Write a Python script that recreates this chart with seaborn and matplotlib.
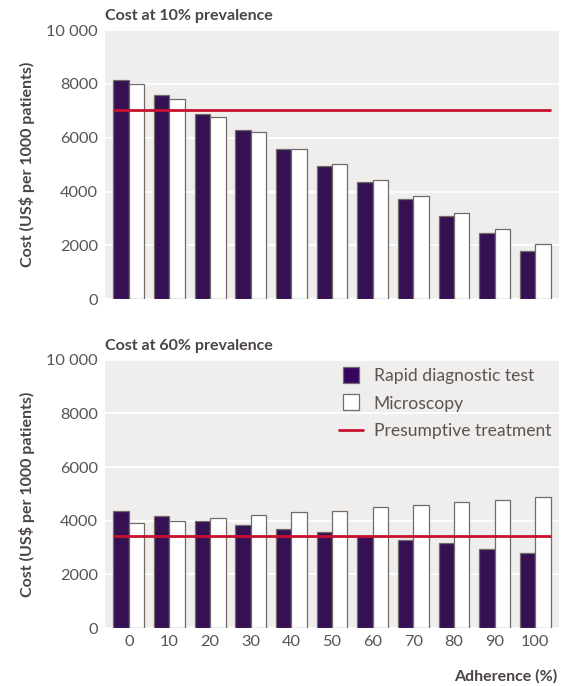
import pandas as pd
import matplotlib.pyplot as plt
import seaborn as sns
from matplotlib.lines import Line2D

# --- Données ---
adherence = [0, 10, 20, 30, 40, 50, 60, 70, 80, 90, 100]

rdt_10 = [8160, 7600, 6880, 6270, 5600, 4960, 4340, 3730, 3075, 2460, 1805]
micro_10 = [8000, 7425, 6790, 6210, 5600, 5015, 4440, 3830, 3210, 2625, 2050]
presumptive_10 = 7015

rdt_60 = [4350, 4165, 4000, 3850, 3700, 3565, 3430, 3280, 3165, 2955, 2805]
micro_60 = [3900, 4000, 4110, 4210, 4325, 4375, 4510, 4575, 4690, 4775, 4885]
presumptive_60 = 3440

methods = ["Rapid diagnostic test", "Microscopy"]
ytick_values = [0, 2000, 4000, 6000, 8000, 10000]
ytick_labels = ["0", "2000", "4000", "6000", "8000", "10 000"]

purple = "#36065f"
red = "#c8102e"
bg = "#efeeec"
edge = "#726c69"
txt = "#5a5452"
dark = "#4a4442"


def make_df(rdt, micro):
    return pd.DataFrame({
        "adherence": adherence * 2,
        "cost": rdt + micro,
        "method": [methods[0]] * len(rdt) + [methods[1]] * len(micro),
    })


sns.set_theme(style="white")
plt.rcParams["font.family"] = ["Lato", "DejaVu Sans"]

fig = plt.figure(figsize=(5.73, 6.86), dpi=100)
ax1 = fig.add_axes([0.183, 0.564, 0.793, 0.392])
ax2 = fig.add_axes([0.183, 0.0845, 0.793, 0.391])

panels = [
    (ax1, rdt_10, micro_10, presumptive_10, "Cost at 10% prevalence"),
    (ax2, rdt_60, micro_60, presumptive_60, "Cost at 60% prevalence"),
]

for ax, rdt, micro, pres, title in panels:
    df = make_df(rdt, micro)
    ax.set_facecolor(bg)
    ax.set_axisbelow(True)
    ax.yaxis.grid(True, color="white", linewidth=1.3)
    sns.barplot(data=df, x="adherence", y="cost", hue="method",
                palette=[purple, "white"], edgecolor=edge, linewidth=0.9,
                width=0.76, gap=0, legend=False, ax=ax)
    ax.hlines(pres, -0.38, 10.38, color=red, linewidth=2, zorder=5)
    ax.set_xlim(-0.59, 10.59)
    ax.set_ylim(0, 10000)
    ax.set_yticks(ytick_values)
    ax.set_yticklabels(ytick_labels)
    ax.tick_params(axis="y", length=0, pad=5, labelsize=11.8, labelcolor=txt)
    ax.tick_params(axis="x", length=0, pad=5, labelsize=11.8, labelcolor=txt)
    for s in ax.spines.values():
        s.set_visible(False)
    ax.set_xlabel("")
    ax.set_ylabel("Cost (US\\$ per 1000 patients)", fontsize=11.5,
                  fontweight="bold", color=dark, labelpad=8)
    ax.set_title(title, loc="left", fontsize=11.5, fontweight="bold",
                 color=dark, pad=7)

ax1.set_xticklabels([])

# légende : carrés pour les barres, trait pour le traitement présomptif
handles = [
    Line2D([], [], marker="s", linestyle="none", markersize=11,
           markerfacecolor=purple, markeredgecolor=edge, markeredgewidth=0.9),
    Line2D([], [], marker="s", linestyle="none", markersize=11,
           markerfacecolor="white", markeredgecolor=edge, markeredgewidth=0.9),
    Line2D([], [], color=red, linewidth=2),
]
ax2.legend(handles, methods + ["Presumptive treatment"], loc="upper right",
           bbox_to_anchor=(1.0, 1.0), frameon=False, fontsize=12.6,
           labelcolor=txt, labelspacing=0.68, handlelength=1.4,
           handletextpad=0.6, borderaxespad=0.05)

fig.text(0.972, 0.003, "Adherence (%)", ha="right", va="bottom",
         fontsize=11.5, fontweight="bold", color=dark)

fig.savefig("out.png", dpi=100, facecolor="white")
